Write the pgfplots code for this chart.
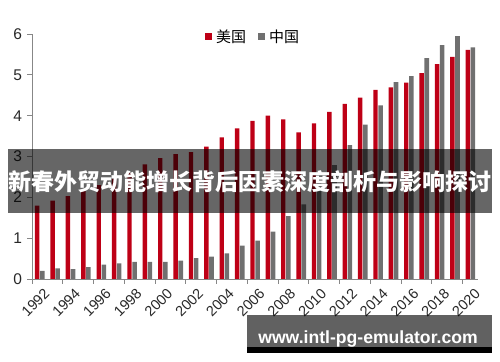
\documentclass[border=0pt]{standalone}
\usepackage{fontspec}
\setmainfont{Liberation Sans}
\newfontfamily\cjk{Noto Sans CJK SC}
\usepackage{pgfplots}
\usepackage{pgfplotstable}
\pgfplotsset{compat=1.18}
\definecolor{usred}{RGB}{190,0,22}
\definecolor{cngray}{RGB}{112,112,112}
\definecolor{axgray}{RGB}{135,135,135}
\definecolor{lblcol}{RGB}{40,40,40}

\pgfplotstableread{
yr us cn
0 1.80 0.20
1 1.92 0.26
2 2.03 0.24
3 2.15 0.29
4 2.30 0.35
5 2.45 0.38
6 2.60 0.42
7 2.81 0.42
8 2.96 0.42
9 3.06 0.45
10 3.11 0.51
11 3.24 0.55
12 3.47 0.63
13 3.69 0.82
14 3.87 0.94
15 4.00 1.16
16 3.91 1.54
17 3.59 1.83
18 3.81 2.38
19 4.09 2.79
20 4.29 3.28
21 4.44 3.78
22 4.63 4.25
23 4.69 4.82
24 4.81 4.97
25 5.04 5.41
26 5.26 5.73
27 5.44 5.95
28 5.61 5.67
}\datatable

\begin{document}
\begin{tikzpicture}
\useasboundingbox (0,0) rectangle (500bp,362bp);
\begin{axis}[
  at={(32bp,83bp)}, anchor=south west,
  scale only axis, width=446bp, height=245bp,
  xmin=-0.5, xmax=28.5, ymin=0, ymax=6,
  /pgf/number format/assume math mode=true,
  axis x line=bottom, axis y line=left,
  axis line style={axgray, line width=0.9bp, -},
  tick align=outside,
  tick style={axgray, line width=0.9bp},
  major tick length=4.5bp,
  ytick={0,1,2,3,4,5,6},
  yticklabel style={font=\fontsize{15.5bp}{15.5bp}\selectfont, text=lblcol, xshift=-2bp},
  xtick={-0.5,1.5,3.5,5.5,7.5,9.5,11.5,13.5,15.5,17.5,19.5,21.5,23.5,25.5,27.5},
  xticklabels={},
  extra x ticks={0,2,4,6,8,10,12,14,16,18,20,22,24,26,28},
  extra x tick labels={\textrm{1992},\textrm{1994},\textrm{1996},\textrm{1998},\textrm{2000},\textrm{2002},\textrm{2004},\textrm{2006},\textrm{2008},\textrm{2010},\textrm{2012},\textrm{2014},\textrm{2016},\textrm{2018},\textrm{2020}},
  extra x tick style={major tick length=0pt,
    tick label style={rotate=45, anchor=north east, font=\fontsize{14.5bp}{14.5bp}\selectfont, text=lblcol, yshift=-5bp}},
  legend columns=2,
  legend style={at={(0.496,0.99)}, anchor=center, draw=none, fill=none,
    font=\cjk\fontsize{15bp}{15bp}\selectfont,
    /tikz/every odd column/.append style={column sep=2bp},
    /tikz/column 2/.style={column sep=10bp}},
]
\addplot[ybar, fill=usred, draw=none, bar width=4.4bp, bar shift=-2.5bp,
  legend image code/.code={\fill[usred] (0bp,-3.5bp) rectangle (7bp,3.5bp);}]
  table[x=yr,y=us]{\datatable};
\addlegendentry{美国}
\addplot[ybar, fill=cngray, draw=none, bar width=4.6bp, bar shift=2.6bp,
  legend image code/.code={\fill[cngray] (0bp,-3.5bp) rectangle (7bp,3.5bp);}]
  table[x=yr,y=cn]{\datatable};
\addlegendentry{中国}
\end{axis}
% overlay banner
\fill[black, opacity=0.6] (8bp,149bp) rectangle (492bp,213bp);
\node[text=white, inner sep=0pt, font=\cjk\bfseries\fontsize{23bp}{23bp}\selectfont] at (250bp,180bp) {新春外贸动能增长背后因素深度剖析与影响探讨};
% watermark
\fill[black, opacity=0.62] (247bp,15.3bp) rectangle (492bp,47bp);
\fill[black] (247bp,9.3bp) rectangle (492bp,15.3bp);
\node[text=white, inner sep=0pt, anchor=base, font=\bfseries\fontsize{17.6bp}{17.6bp}\selectfont] at (368bp,18.7bp) {www.intl-pg-emulator.com};
\end{tikzpicture}
\end{document}
